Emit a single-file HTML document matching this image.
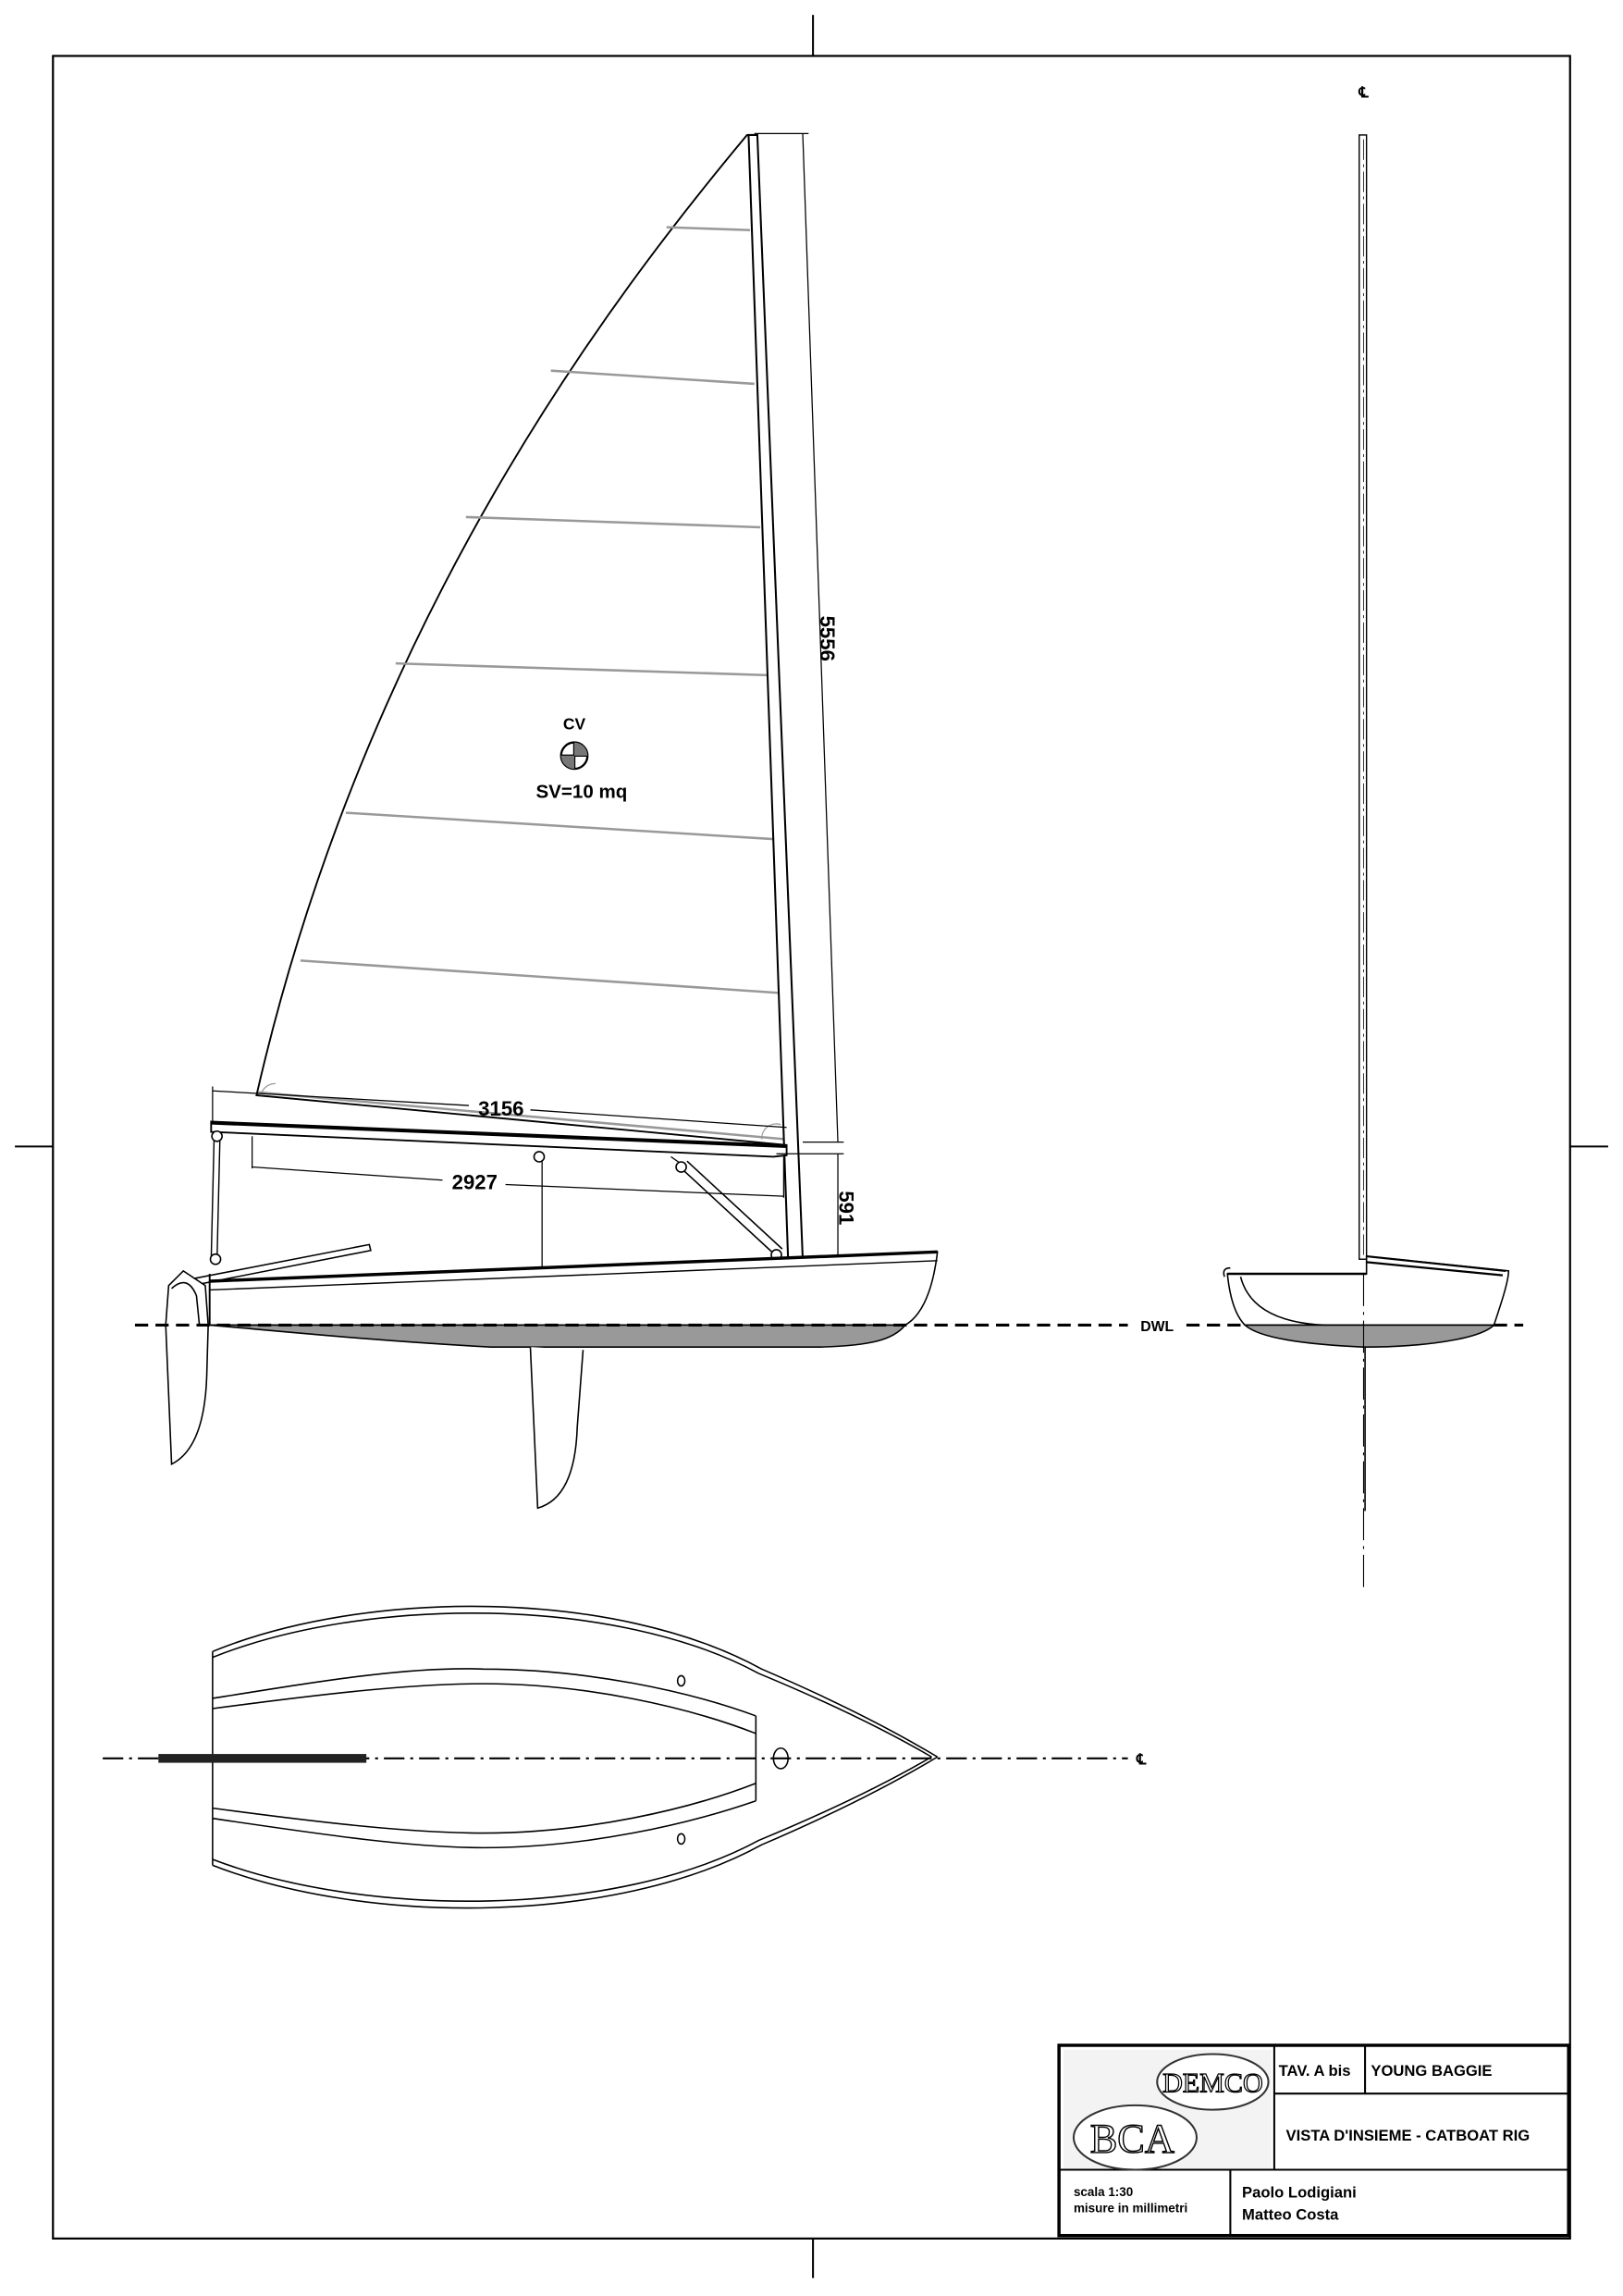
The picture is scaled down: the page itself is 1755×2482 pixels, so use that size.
<!DOCTYPE html>
<html><head><meta charset="utf-8"><style>html,body{margin:0;padding:0;background:#fff}svg{display:block}</style></head>
<body>
<svg width="1755" height="2482" viewBox="0 0 1103 1560" preserveAspectRatio="none" xmlns="http://www.w3.org/2000/svg" font-family="Liberation Sans, sans-serif">
<rect x="0" y="0" width="1103" height="1560" fill="#fff"/>
<g transform="translate(36,38) scale(0.9952,0.9946) translate(-36,-38)">
<!-- border and ticks -->
<rect x="36" y="38" width="1036" height="1491" fill="none" stroke="#000" stroke-width="1.4"/>
<g stroke="#000" stroke-width="1.3">
<line x1="555" y1="10" x2="555" y2="38"/><line x1="555" y1="1529" x2="555" y2="1556"/>
<line x1="10" y1="783" x2="36" y2="783"/><line x1="1072" y1="783" x2="1098" y2="783"/>
</g>
<!-- sail -->
<path d="M510,92 C420,200 250,420 175,748 L537,782 L512,92 Z" fill="#fff" stroke="#000" stroke-width="1.2"/>
<g stroke="#999" stroke-width="1.6">
<line x1="455" y1="155" x2="512" y2="157"/>
<line x1="376" y1="253" x2="515" y2="262"/>
<line x1="318" y1="353" x2="519" y2="360"/>
<line x1="270" y1="453" x2="524" y2="461"/>
<line x1="236" y1="555" x2="528" y2="573"/>
<line x1="205" y1="656" x2="531" y2="678"/>
<line x1="176" y1="746" x2="536" y2="778"/>
</g>
<path d="M178,748 A10,10 0 0 1 188,740" fill="none" stroke="#999" stroke-width="0.8"/>
<path d="M520,778 A10,10 0 0 1 533,768" fill="none" stroke="#999" stroke-width="0.8"/>
<!-- mast -->
<path d="M511,92 L517,92 L548,860 L538,860 Z" fill="#fff" stroke="#000" stroke-width="1.3"/>
<!-- 5556 dim -->
<g stroke="#000" stroke-width="0.8">
<line x1="515" y1="91" x2="552" y2="91"/>
<line x1="548" y1="91" x2="572" y2="780"/>
<line x1="548" y1="780" x2="576" y2="780"/>
</g>
<text x="560" y="436" font-size="14" font-weight="bold" text-anchor="middle" transform="rotate(90 560 436)">5556</text>
<!-- 3156 dim -->
<g stroke="#000" stroke-width="0.8">
<line x1="145" y1="742" x2="145" y2="768"/>
<line x1="145" y1="745" x2="320" y2="755"/><line x1="362" y1="758" x2="537" y2="770"/>
<line x1="172" y1="776" x2="172" y2="798"/>
<line x1="172" y1="797" x2="302" y2="806"/><line x1="345" y1="809" x2="535" y2="817"/>
<line x1="535" y1="790" x2="535" y2="818"/>
</g>
<text x="342" y="762" font-size="14" font-weight="bold" text-anchor="middle">3156</text>
<text x="324" y="812" font-size="14" font-weight="bold" text-anchor="middle">2927</text>
<!-- boom -->
<path d="M144,766 L537,782 L537,789 L528,790 L144,773 Z" fill="#fff" stroke="#000" stroke-width="1.2"/>
<line x1="144" y1="767" x2="537" y2="783" stroke="#000" stroke-width="2"/>
<!-- 591 -->
<g stroke="#000" stroke-width="0.8">
<line x1="530" y1="788" x2="576" y2="788"/>
<line x1="572" y1="788" x2="572" y2="858"/>
</g>
<text x="573" y="825" font-size="14" font-weight="bold" text-anchor="middle" transform="rotate(90 573 825)">591</text>
<!-- vang -->
<path d="M463,796 L528,856 M469,793 L534,853" stroke="#000" stroke-width="1"/>
<line x1="458" y1="790" x2="468" y2="797" stroke="#000" stroke-width="0.8"/>
<line x1="370" y1="793" x2="370" y2="905" stroke="#000" stroke-width="0.8"/>
<path d="M146,778 L144,862 M150,778 L148,862" stroke="#000" stroke-width="0.9"/>
<g fill="#fff" stroke="#000" stroke-width="1">
<circle cx="148" cy="776" r="3.5"/><circle cx="368" cy="790" r="3.5"/><circle cx="465" cy="797" r="3.5"/><circle cx="530" cy="857" r="3.5"/><circle cx="147" cy="860" r="3.5"/>
</g>
<!-- tiller -->
<path d="M123,875 L252,850 L253,854 L126,879 Z" fill="#fff" stroke="#000" stroke-width="1"/>
<!-- hull -->
<path d="M143,875 L640,855 C637,880 630,898 618,905 L143,905 Z" fill="#fff" stroke="#000" stroke-width="1"/>
<line x1="143" y1="875" x2="640" y2="855" stroke="#000" stroke-width="2.2"/>
<line x1="143" y1="881" x2="640" y2="861" stroke="#000" stroke-width="0.9"/>
<path d="M143,905 L618,905 C610,915 595,919 560,920 L335,920 C260,916 200,910 143,905 Z" fill="#999" stroke="#000" stroke-width="1"/>
<!-- rudder -->
<path d="M125,868 L115,878 L113,905 L117,1000 C133,992 140,970 141,940 L142,905 L140,878 Z" fill="#fff" stroke="#000" stroke-width="1"/>
<path d="M117,880 Q128,870 134,885 L136,905" fill="none" stroke="#000" stroke-width="1"/>
<line x1="143" y1="870" x2="143" y2="905" stroke="#000" stroke-width="1.2"/>
<!-- centerboard -->
<path d="M362,920 L367,1030 C385,1025 393,1005 394,975 L398,922" fill="#fff" stroke="#000" stroke-width="1"/>
<!-- DWL -->
<line x1="92" y1="905" x2="770" y2="905" stroke="#000" stroke-width="2" stroke-dasharray="9,5"/>
<line x1="810" y1="905" x2="1040" y2="905" stroke="#000" stroke-width="2" stroke-dasharray="9,5"/>
<text x="790" y="909" font-size="10" font-weight="bold" text-anchor="middle">DWL</text>

<!-- front view -->
<text x="931" y="66" font-size="10" font-weight="bold" text-anchor="middle">℄</text>
<rect x="928" y="92" width="5" height="768" fill="#fff" stroke="#000" stroke-width="0.9"/>
<line x1="931" y1="95" x2="931" y2="858" stroke="#000" stroke-width="0.5" stroke-dasharray="14,3,2,3"/>
<path d="M838,870 C840,890 845,900 850,905 L1020,905 C1025,890 1030,875 1030,868 L933,858 L933,870 Z" fill="#fff" stroke="#000" stroke-width="1"/>
<path d="M933,858 L1028,868 M933,862 L1026,871" stroke="#000" stroke-width="1.4"/>
<line x1="838" y1="870" x2="933" y2="870" stroke="#000" stroke-width="1.6"/>
<path d="M836,872 Q834,866 840,866" fill="none" stroke="#000" stroke-width="1"/>
<path d="M847,872 Q855,903 905,905" fill="none" stroke="#000" stroke-width="1"/>
<path d="M850,905 L1020,905 C1010,915 970,920 931,920 C890,918 860,914 850,905 Z" fill="#999" stroke="#000" stroke-width="1"/>
<line x1="931" y1="870" x2="931" y2="1085" stroke="#000" stroke-width="0.7" stroke-dasharray="22,4,2,4"/>
<line x1="932" y1="920" x2="932" y2="1032" stroke="#000" stroke-width="1"/>

<!-- plan view -->
<g fill="none" stroke="#000" stroke-width="1">
<path d="M145,1128 C250,1085 420,1085 520,1140 Q590,1170 640,1200"/>
<path d="M145,1132 C250,1090 420,1090 518,1143 Q588,1172 636,1200"/>
<path d="M145,1274 C250,1315 420,1315 520,1260 Q590,1230 640,1200"/>
<path d="M145,1270 C250,1310 420,1310 518,1257 Q588,1228 636,1200"/>
<line x1="145" y1="1128" x2="145" y2="1274"/>
<path d="M145,1160 C220,1148 280,1138 330,1140 C400,1140 470,1155 516,1172"/>
<path d="M145,1167 C220,1157 280,1150 330,1150 C400,1150 470,1166 516,1184"/>
<path d="M145,1242 C220,1253 280,1262 330,1262 C400,1262 470,1246 516,1230"/>
<path d="M145,1235 C220,1245 280,1252 330,1252 C400,1252 470,1236 516,1218"/>
<line x1="516" y1="1172" x2="516" y2="1230"/>
<ellipse cx="465" cy="1148" rx="2.5" ry="3.5"/><ellipse cx="465" cy="1256" rx="2.5" ry="3.5"/>
<ellipse cx="533" cy="1201" rx="5" ry="7"/>
</g>
<line x1="70" y1="1201" x2="770" y2="1201" stroke="#000" stroke-width="1.3" stroke-dasharray="14,4,2,4"/>
<rect x="108" y="1198" width="142" height="6" fill="#222"/>
<text x="776" y="1205" font-size="10" font-weight="bold">℄</text>

<!-- title block -->
<rect x="723" y="1397" width="348" height="130" fill="#fff" stroke="#000" stroke-width="2.2"/>
<rect x="726" y="1400" width="142" height="82" fill="#f3f3f3"/>
<g stroke="#000" stroke-width="1.3">
<line x1="870" y1="1397" x2="870" y2="1482"/>
<line x1="870" y1="1430" x2="1071" y2="1430"/>
<line x1="932" y1="1397" x2="932" y2="1430"/>
<line x1="723" y1="1482" x2="1071" y2="1482"/>
<line x1="840" y1="1482" x2="840" y2="1527"/>
</g>
<ellipse cx="828" cy="1422" rx="38" ry="19" fill="#fff" stroke="#333" stroke-width="1.3"/>
<text x="828" y="1429" font-family="Liberation Serif, serif" font-size="19" text-anchor="middle" fill="#fff" stroke="#000" stroke-width="0.8">DEMCO</text>
<ellipse cx="775" cy="1460" rx="42" ry="22" fill="#fff" stroke="#333" stroke-width="1.3"/>
<text x="773" y="1470" font-family="Liberation Serif, serif" font-size="28" text-anchor="middle" fill="#fff" stroke="#000" stroke-width="0.9">BCA</text>
<g font-weight="bold" font-size="10.5">
<text x="873" y="1418">TAV. A bis</text>
<text x="936" y="1418">YOUNG BAGGIE</text>
<text x="878" y="1462">VISTA D'INSIEME - CATBOAT RIG</text>
<text x="848" y="1501">Paolo Lodigiani</text>
<text x="848" y="1516">Matteo Costa</text>
<text x="733" y="1500" font-size="8.5">scala 1:30</text>
<text x="733" y="1511" font-size="8.5">misure in millimetri</text>
</g>

<!-- CV -->
<text x="392" y="498" font-size="11" font-weight="bold" text-anchor="middle">CV</text>
<circle cx="392" cy="516" r="9" fill="#fff" stroke="#000" stroke-width="1.5"/>
<path d="M383,516 H401 M392,507 V525" stroke="#000" stroke-width="1.5"/>
<path d="M392,507 A9,9 0 0 1 401,516 L392,516 Z M392,525 A9,9 0 0 1 383,516 L392,516 Z" fill="#777"/>
<text x="397" y="545" font-size="13" font-weight="bold" text-anchor="middle">SV=10 mq</text>
</g>
</svg>
</body></html>
